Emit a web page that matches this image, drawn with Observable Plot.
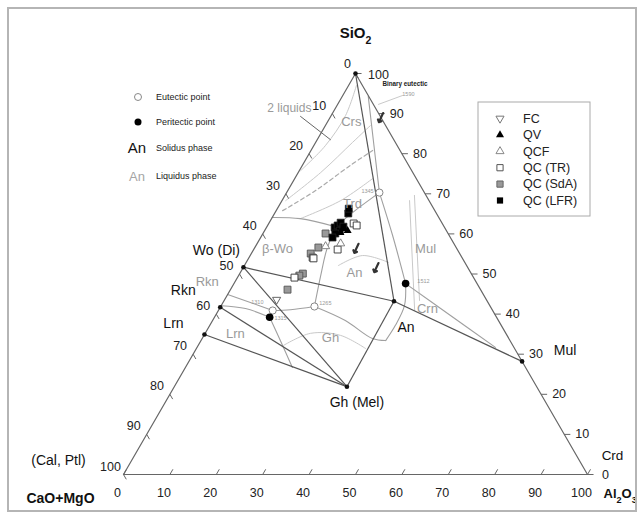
<!DOCTYPE html>
<html><head><meta charset="utf-8">
<script src="https://cdn.jsdelivr.net/npm/d3@7"></script>
<script src="https://cdn.jsdelivr.net/npm/@observablehq/plot@0.6"></script>
<style>body{margin:0;background:#fff}svg{display:block}</style>
</head><body><div id="chart"></div>
<script>
// All compositions are [Al2O3 %, SiO2 %]; CaO+MgO = 100 - Al2O3 - SiO2
const tickValues = [0,10,20,30,40,50,60,70,80,90,100];

// sample groups
const sampleFC  = [[11.2,43.6]];
const sampleQV  = [[16.7,61.3],[17.9,60.8],[16.6,60.3]];
const sampleQCF = [[15.1,56.9],[18.0,57.6]];
const sampleTR  = [[18.3,62.6],[19.2,62.1],[18.1,56.1],[12.3,49.1],[14.0,53.9]];
const sampleSdA = [[13.5,60.1],[13.7,56.6],[12.8,55.1],[13.7,54.1],[13.6,50.1],[13.1,49.6],[12.3,46.1]];
const sampleLFR = [[15.9,65.1],[15.4,66.3],[14.7,61.6],[15.1,62.1],[16.2,60.8],[15.6,60.1],[15.5,59.1],[15.4,62.8],[16.5,61.8]];
const legendNames = ["FC","QV","QCF","QC (TR)","QC (SdA)","QC (LFR)"];

// solid phases
const phaseNames = ["SiO2","Wo (Di)","Rkn","Lrn","Gh (Mel)","An","Mul"];
const phaseComp  = [[0,100],[0,51.7],[0,41.7],[0,34.9],[37.2,21.9],[36.7,43.2],[71.8,28.2]];
// tie lines between phases (indices)
const tieLines = [[0,5],[1,5],[5,6],[1,4],[2,4],[3,4],[5,4]];

// invariant points
const eutectics   = [[20.0,70.3],[20.2,41.9],[11.7,40.9]];
const peritectics = [[37.0,47.6],[11.9,39.2]];

// field boundaries (cotectics)
const boundaries = [
  [[5.6,94.3],[12.2,83.3],[20.0,70.3]],
  [[20.0,70.3],[17.3,66.3],[14.8,61.8]],
  [[0,64.1],[6.2,63.8],[14.8,61.8]],
  [[14.8,61.8],[15.8,55.9],[17.7,49.6],[20.2,41.9]],
  [[20.2,41.9],[15.45,41.1],[11.7,40.9]],
  [[20.2,41.9],[28.6,38.4],[36.7,33.9],[39.8,33.4]],
  [[37.0,47.6],[39.5,42.1],[40.0,37.2],[39.8,33.4]],
  [[37.0,47.6],[50.65,39.65],[64.3,31.7]],
  [[20.0,70.3],[28.2,59.6],[37.0,47.6]],
  [[0,44.9],[5.9,42.9],[11.7,40.9]],
  [[0,42.1],[5.6,41.4],[11.9,39.2]],
  [[11.9,39.2],[17.1,33.4],[23.05,26.7]]
];
// isotherms
const isotherms = [
  [[0.3,75.8],[2.5,82.0],[3.1,89.5],[1.7,97.0]],
  [[0.8,68.3],[4.85,75.3],[7.95,82.8],[9.7,87.0]],
  [[6.2,63.8],[12.65,68.3],[16.8,73.8]],
  [[18.4,32.2],[22.7,35.2],[29.4,34.7],[36.5,31.4]],
  [[20.25,52.1],[24.2,54.6],[30.65,52.9]],
  [[27.5,68.3],[42.3,40.9]],
  [[27.9,69.6],[42.1,43.4]]
];
const inversion = [[1.4,65.8],[6.0,70.8],[10.35,77.1],[13.3,80.8]];

// liquidus field labels
const fieldNames = ["2 liquids","Crs","Trd","β-Wo","An","Mul","Crn","Rkn","Lrn","Gh"];
const fieldComp  = [[-9.9,91.3],[5.1,88.0],[15.55,67.6],[5.0,56.4],[24.6,50.4],[36.9,56.4],[44.8,41.4],[-6.0,48.1],[6.5,35.2],[27.5,34.2]];
// temperature labels
const tempNames = ["1590","1345","1512","1265","1310","1315"];
const tempComp  = [[14.0,94.8],[17.3,70.6],[40.6,48.1],[22.2,42.6],[7.4,42.9],[14.4,38.9]];
// pointer lines
const pointers = [[[-6.5,89.3],[2.85,83.5]]];
const eutecticPointer = [[12.85,94.5],[8.8,92.3]];
// direction arrows on boundaries
const arrowsComp = [[11.0,89.0],[22.0,56.4],[28.7,51.6]];

const keyNames = ["Eutectic point","Peritectic point","Solidus phase","Liquidus phase"];

// ---------- geometry ----------
const SQ3 = Math.sqrt(3);
const px = d => (d[0] + d[1] / 2) / 100;
const py = d => d[1] * SQ3 / 200;
const T = {x: px, y: py};
const FONT = "Liberation Sans, Arial, Helvetica, sans-serif";

const triangleDown = {
  draw(ctx, size) {
    const L = Math.sqrt(4 * size / SQ3), h = L * SQ3 / 2;
    ctx.moveTo(0, 2 * h / 3); ctx.lineTo(L / 2, -h / 3); ctx.lineTo(-L / 2, -h / 3); ctx.closePath();
  }
};

const outline = [[0,0],[100,0],[0,100],[0,0]];
const lab = (data, txt, opts) => Plot.text(data, {...T, text: txt, fontFamily: FONT, ...opts});

const ticksLeft   = tickValues.map(t => [[0,100-t],[1.2,100-t-1.2]]);
const ticksRight  = tickValues.map(t => [[100-t,t],[100-t+1.3,t]]);
const ticksBottom = tickValues.map(t => [[t,0],[t,1.3]]);
const allTicks = [...ticksLeft, ...ticksRight, ...ticksBottom];

const phaseObjs = phaseNames.map((n,i) => ({n, c: phaseComp[i]}));
const P = n => [phaseObjs.find(p => p.n === n).c];

const marks = [];
isotherms.forEach(l => marks.push(Plot.line(l, {...T, stroke:"#c9c9c9", strokeWidth:1, curve:"catmull-rom"})));
marks.push(Plot.line(inversion, {...T, stroke:"#aaa", strokeWidth:1.2, strokeDasharray:"4,3", curve:"catmull-rom"}));
boundaries.forEach(l => marks.push(Plot.line(l, {...T, stroke:"#a0a0a0", strokeWidth:1.1, curve:"catmull-rom"})));
marks.push(Plot.line(outline, {...T, stroke:"#666", strokeWidth:1.2}));
marks.push(Plot.link(allTicks, {x1: d=>px(d[0]), y1: d=>py(d[0]), x2: d=>px(d[1]), y2: d=>py(d[1]), stroke:"#666", strokeWidth:1}));
marks.push(Plot.link(tieLines, {x1: d=>px(phaseComp[d[0]]), y1: d=>py(phaseComp[d[0]]), x2: d=>px(phaseComp[d[1]]), y2: d=>py(phaseComp[d[1]]), stroke:"#555", strokeWidth:1.2}));
pointers.forEach(l => marks.push(Plot.line(l, {...T, stroke:"#666", strokeWidth:1})));
marks.push(Plot.line(eutecticPointer, {...T, stroke:"#bbb", strokeWidth:0.8}));
marks.push(Plot.vector(arrowsComp, {...T, length:10, rotate:205, anchor:"middle", stroke:"#333", strokeWidth:2.2}));
marks.push(Plot.dot(phaseComp, {...T, r:2.3, fill:"#111"}));
marks.push(Plot.dot(eutectics, {...T, r:3.6, fill:"white", stroke:"#888", strokeWidth:1}));
marks.push(Plot.dot(peritectics, {...T, r:3.8, fill:"black"}));
marks.push(Plot.dot(sampleSdA, {...T, symbol:"square", r:3.9, fill:"#999", stroke:"#555", strokeWidth:0.9}));
marks.push(Plot.dot(sampleTR,  {...T, symbol:"square", r:3.9, fill:"white", stroke:"#333", strokeWidth:0.9}));
marks.push(Plot.dot(sampleQCF, {...T, symbol:"triangle", r:3.0, fill:"white", stroke:"#777", strokeWidth:0.9}));
marks.push(Plot.dot(sampleFC,  {...T, symbol:triangleDown, r:3.0, fill:"white", stroke:"#555", strokeWidth:0.9}));
marks.push(Plot.dot(sampleLFR, {...T, symbol:"square", r:3.9, fill:"black", stroke:"#222", strokeWidth:0.8}));
marks.push(Plot.dot(sampleQV,  {...T, symbol:"triangle", r:3.0, fill:"black"}));

// tick labels
const leftT = tickValues.filter(t => t > 0).map(t => ({t, c:[0,100-t]}));
marks.push(Plot.text(leftT, {x:d=>px(d.c), y:d=>py(d.c), text:d=>String(d.t), dx:-13, dy:-8, fontSize:12.5, fill:"#222", fontFamily:FONT}));
marks.push(Plot.text([[0,100]], {...T, text:()=> "0", dx:-8, dy:-10, fontSize:12.5, fill:"#222", fontFamily:FONT}));
const rightT = tickValues.filter(t => t < 100).map(t => ({t, c:[100-t,t]}));
marks.push(Plot.text(rightT, {x:d=>px(d.c), y:d=>py(d.c), text:d=>String(d.t), dx:18, fontSize:12.5, fill:"#222", fontFamily:FONT}));
marks.push(Plot.text([[0,100]], {...T, text:()=> "100", dx:23, dy:1, fontSize:12.5, fill:"#222", fontFamily:FONT}));
const botT = tickValues.map(t => ({t, c:[t,0]}));
marks.push(Plot.text(botT, {x:d=>px(d.c), y:d=>py(d.c), text:d=>String(d.t), dx:-6, dy:18, fontSize:12.5, fill:"#222", fontFamily:FONT}));

// corner titles
marks.push(lab([[0,100]], ()=>"SiO2", {dy:-40, fontSize:15, fontWeight:"bold", fill:"#111"}));
marks.push(lab([[0,0]], ()=>"CaO+MgO", {dx:-63, dy:24, fontSize:14, fontWeight:"bold", fill:"#111"}));
marks.push(lab([[0,0]], ()=>"(Cal, Ptl)", {dx:-65, dy:-14, fontSize:14, fill:"#111"}));
marks.push(lab([[100,0]], ()=>"Al2O3", {dx:16, dy:19, textAnchor:"start", fontSize:13, fontWeight:"bold", fill:"#111"}));
marks.push(lab([[100,0]], ()=>"Crd", {dx:25, dy:-19, fontSize:13.5, fill:"#111"}));
const phaseLabelLayout = {
  "Wo (Di)": [-27,-17], "Rkn": [-37,-17], "Lrn": [-31,-11],
  "Gh (Mel)": [10,16], "An": [12,26], "Mul": [43,-11]
};
Object.entries(phaseLabelLayout).forEach(([n,[dx,dy]]) =>
  marks.push(lab(P(n), ()=>n, {dx, dy, fontSize:14, fill:"#111"})));
marks.push(Plot.text(fieldComp, {...T, text:(d,i)=>fieldNames[i], fontSize:(d,i)=> i===0 ? 12 : 13, fill:"#9a9a9a", fontFamily:FONT}));
marks.push(Plot.text(tempComp, {...T, text:(d,i)=>tempNames[i], fontSize:5.5, fill:"#999", fontFamily:FONT}));
marks.push(lab([[7.15,97.3]], ()=>"Binary eutectic", {textAnchor:"start", fontSize:6.3, fill:"#222", fontWeight:"bold"}));

const svg = Plot.plot({
  width: 644, height: 518,
  marginLeft: 123, marginRight: 57, marginTop: 73, marginBottom: 44,
  x: {domain:[0,1], axis:null},
  y: {domain:[0, SQ3/2], axis:null},
  style: {fontFamily: FONT, background: "white", overflow: "visible"},
  marks
});

const S = d3.select(svg);
S.selectAll("text").filter(function(){ return this.textContent === "SiO2" || this.textContent === "Al2O3"; })
 .each(function(){
   const t = d3.select(this); const s = this.textContent;
   t.text(null);
   const parts = s === "SiO2" ? [["SiO",0],["2",1]] : [["Al",0],["2",1],["O",0],["3",1]];
   parts.forEach(([p,sub]) => { const ts = t.append("tspan").text(p); if (sub) ts.attr("baseline-shift","sub").attr("font-size","70%"); });
 });

S.append("rect").attr("x",8).attr("y",8).attr("width",628).attr("height",503)
  .attr("fill","none").attr("stroke","#b5b5b5").attr("stroke-width",2);

const K = S.append("g").attr("font-family", FONT).attr("text-anchor","start");
K.append("circle").attr("cx",138).attr("cy",97).attr("r",3.5).attr("fill","white").attr("stroke","#888");
K.append("circle").attr("cx",138).attr("cy",122).attr("r",3.5).attr("fill","black");
K.append("text").attr("x",137).attr("y",148).attr("dy","0.35em").attr("text-anchor","middle").attr("font-size",15).attr("fill","#111").text("An");
K.append("text").attr("x",137).attr("y",176).attr("dy","0.35em").attr("text-anchor","middle").attr("font-size",13).attr("fill","#a5a5a5").text("An");
[97,122,148,176].forEach((y,i) => K.append("text").attr("x",156).attr("y",y).attr("dy","0.35em").attr("text-anchor","start").attr("font-size",9).attr("fill","#222").text(keyNames[i]));

const L = S.append("g").attr("font-family", FONT).attr("text-anchor","start");
L.append("rect").attr("x",478).attr("y",102).attr("width",112).attr("height",114).attr("fill","white").attr("stroke","#aaa").attr("stroke-width",1);
const symDefs = [
  {type: triangleDown, r:3.0, fill:"white", stroke:"#777"},
  {type: d3.symbolTriangle, r:3.0, fill:"black", stroke:"none"},
  {type: d3.symbolTriangle, r:3.0, fill:"white", stroke:"#888"},
  {type: d3.symbolSquare, r:3.5, fill:"white", stroke:"#555"},
  {type: d3.symbolSquare, r:3.5, fill:"#999", stroke:"#666"},
  {type: d3.symbolSquare, r:3.5, fill:"black", stroke:"none"}
];
legendNames.forEach((n,i) => {
  const y = 118.5 + i*16.4;
  const s = symDefs[i];
  L.append("path").attr("transform",`translate(500,${y})`).attr("d", d3.symbol(s.type, Math.PI*s.r*s.r)())
    .attr("fill", s.fill).attr("stroke", s.stroke);
  L.append("text").attr("x",523).attr("y",y).attr("dy","0.35em").attr("text-anchor","start").attr("font-size",12.5).attr("fill","#222").text(n);
});

document.getElementById("chart").append(svg);
</script></body></html>
